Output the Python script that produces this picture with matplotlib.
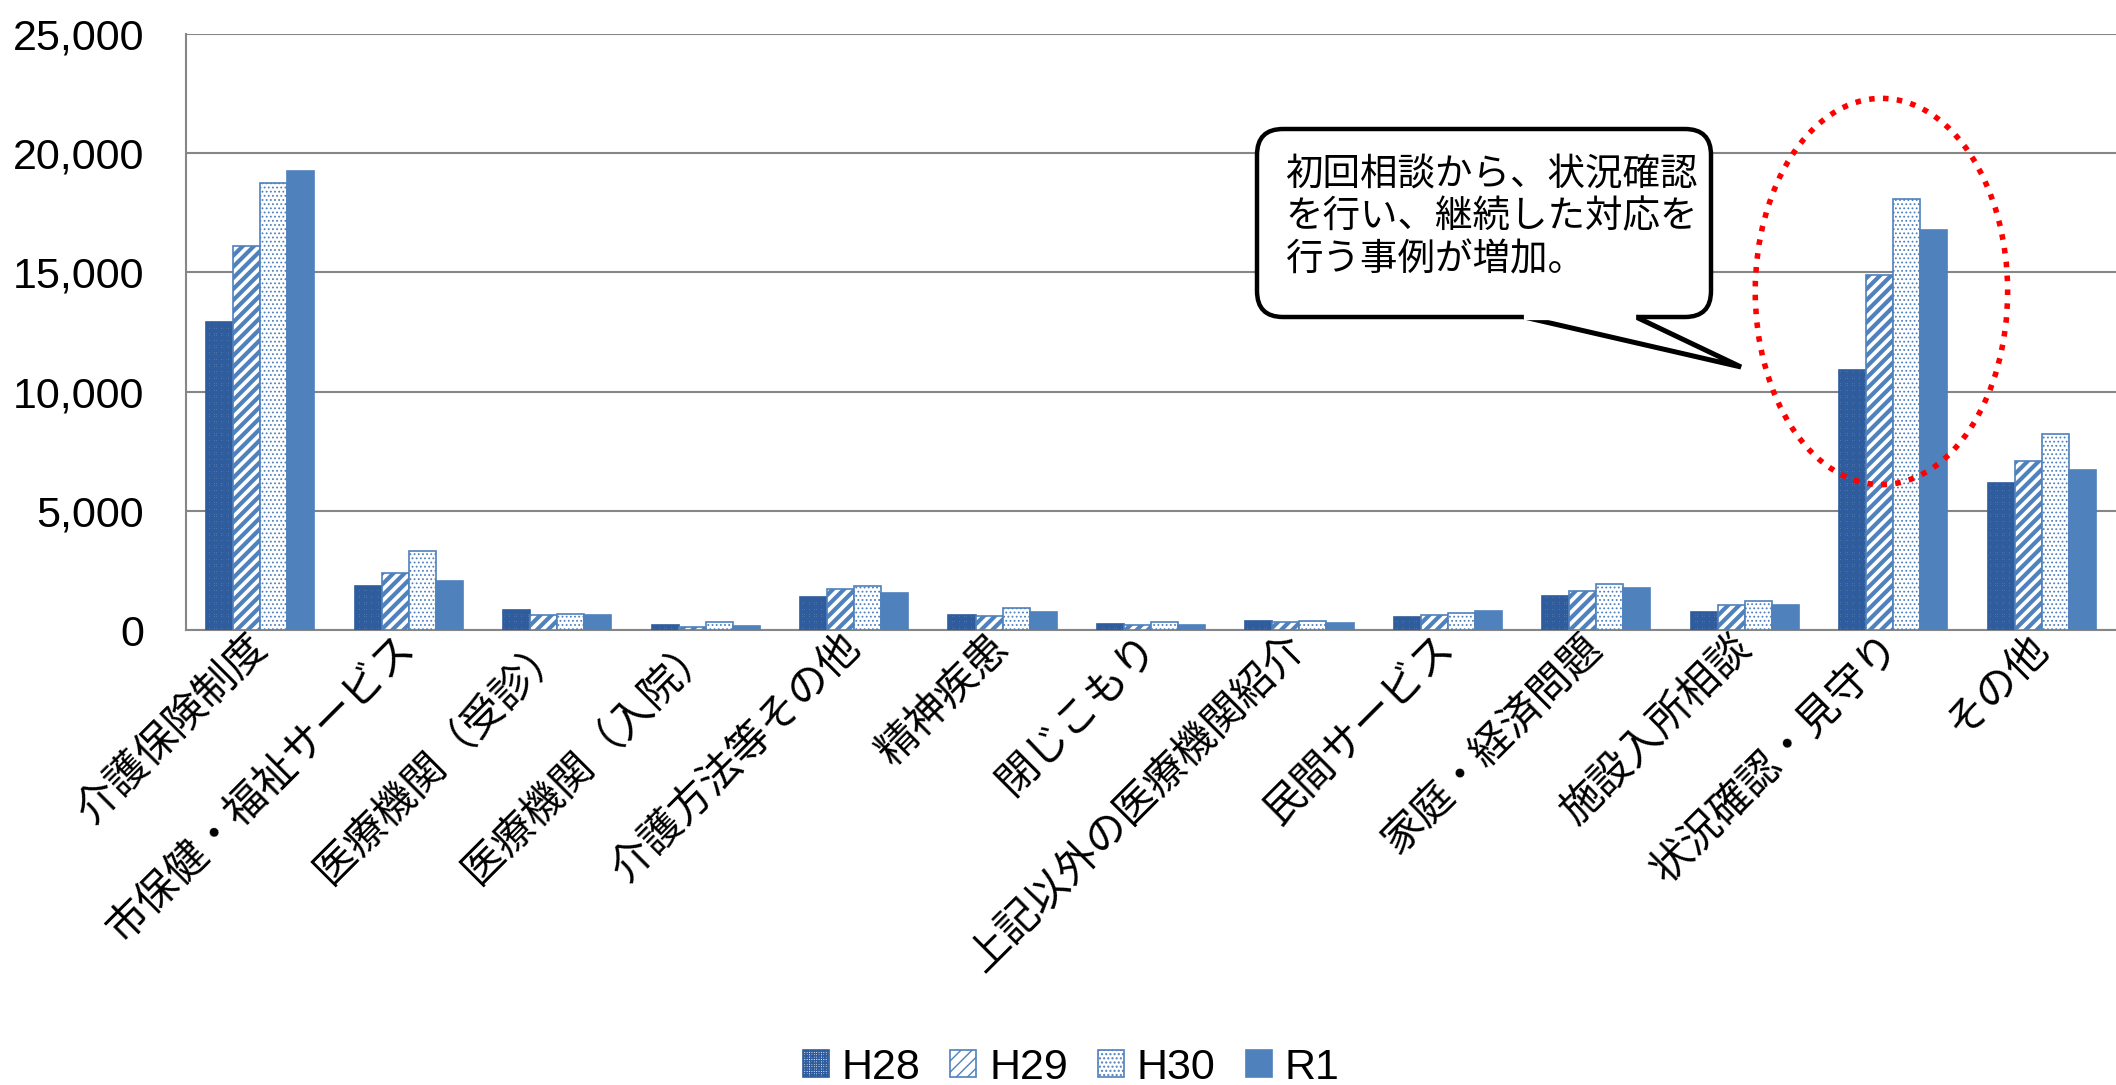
import matplotlib
matplotlib.use('Agg')
import matplotlib.pyplot as plt
import matplotlib.transforms as mtransforms
from matplotlib.patches import FancyBboxPatch, Polygon, Ellipse
from matplotlib.lines import Line2D
from matplotlib.ticker import FuncFormatter
import numpy as np

categories = ['介護保険制度', '市保健・福祉サービス', '医療機関（受診）', '医療機関（入院）',
              '介護方法等その他', '精神疾患', '閉じこもり', '上記以外の医療機関紹介',
              '民間サービス', '家庭・経済問題', '施設入所相談', '状況確認・見守り', 'その他']
series_names = ['H28', 'H29', 'H30', 'R1']
h28 = [12920, 1840, 850, 230, 1400, 630, 270, 380, 550, 1420, 760, 10910, 6180]
h29 = [16120, 2410, 610, 140, 1710, 570, 220, 340, 610, 1630, 1040, 14910, 7100]
h30 = [18730, 3320, 690, 330, 1830, 920, 320, 380, 730, 1920, 1230, 18090, 8210]
r1 = [19270, 2060, 610, 170, 1540, 770, 210, 290, 800, 1750, 1040, 16780, 6730]
callout_lines = ['初回相談から、状況確認', 'を行い、継続した対応を', '行う事例が増加。']

W, H = 2116, 1085
BLUE = '#4F81BD'
JP = ['Noto Sans CJK JP', 'DejaVu Sans']
NUM = ['Liberation Sans', 'DejaVu Sans']

fig = plt.figure(figsize=(W / 100, H / 100), dpi=100)
ax = fig.add_axes([186 / W, 1 - 630 / H, 1 - 186 / W, (630 - 34) / H])

x = np.arange(len(categories))
w = 0.182
styles = [
    dict(color='white', edgecolor='#2F5C9C', hatch='+' * 7, hlw=1.3),
    dict(color='white', edgecolor=BLUE, hatch='///', hlw=3.0),
    dict(color='white', edgecolor=BLUE, hatch='.' * 4, hlw=0.8),
    dict(color=BLUE, edgecolor=BLUE, hatch=None, hlw=1.0),
]
containers = []
for i, (vals, st) in enumerate(zip([h28, h29, h30, r1], styles)):
    bars = ax.bar(x + (i - 1.5) * w, vals, w, color=st['color'], edgecolor=st['edgecolor'],
                  hatch=st['hatch'], linewidth=1.2, label=series_names[i], zorder=3)
    for b in bars:
        if hasattr(b, 'set_hatch_linewidth'):
            b.set_hatch_linewidth(st['hlw'])
    containers.append(bars)

ax.set_xlim(-0.5, len(categories) - 0.5)
ax.set_ylim(0, 25000)
ax.set_yticks(np.arange(0, 25001, 5000))
ax.yaxis.set_major_formatter(FuncFormatter(lambda v, p: f'{int(v):,}'))
ax.yaxis.grid(True, color='#868686', linewidth=1.5)
ax.set_axisbelow(True)
for s in ['top', 'right']:
    ax.spines[s].set_visible(False)
for s in ['left', 'bottom']:
    ax.spines[s].set_color('#868686')
    ax.spines[s].set_linewidth(1.5)
ax.tick_params(axis='y', length=0, pad=30, labelsize=31)
for t in ax.get_yticklabels():
    t.set_fontfamily(NUM)
ax.set_xticks(x)
ax.set_xticklabels(categories, rotation=45, ha='right', va='center', rotation_mode='anchor',
                   fontsize=30, family=JP)
ax.tick_params(axis='x', length=0, pad=8)

leg = fig.legend(handles=containers, labels=series_names, loc='center',
                 bbox_to_anchor=(1071 / W, 1 - 1068 / H), ncol=4, frameon=False,
                 prop={'family': NUM, 'size': 31}, handlelength=0.6, handleheight=0.6,
                 handletextpad=0.3, columnspacing=0.7)

# callout bubble (pixel coordinates, y measured from top)
ident = mtransforms.IdentityTransform()
def P(px, py):
    return (px, H - py)

bx0, by0, bx1, by1 = 1257, 129, 1711, 317
box = FancyBboxPatch(P(bx0, by1), bx1 - bx0, by1 - by0, boxstyle='round,pad=0,rounding_size=26',
                     facecolor='white', edgecolor='black', linewidth=3.2, transform=ident, zorder=5)
fig.add_artist(box)
tail = Polygon([P(1524, by1), P(1741, 367), P(1636, by1)], closed=False, facecolor='white',
               edgecolor='black', linewidth=3.6, transform=ident, zorder=6, joinstyle='miter')
fig.add_artist(tail)
fig.add_artist(Line2D([1527, 1633], [H - by1, H - by1], color='white', linewidth=4.5,
                      transform=ident, zorder=7))
for k, line in enumerate(callout_lines):
    fig.text(1285 / W, 1 - (174 + 43 * k) / H, line, fontsize=27, family=JP, va='center',
             ha='left', zorder=8)

# red dotted ellipse around 状況確認・見守り
idx = categories.index('状況確認・見守り')
ell = Ellipse((idx - 0.08, 14200), 1.70, 16200, fill=False, edgecolor='#FF0000', linewidth=4.0,
              linestyle=(0, (1, 1.5)), clip_on=False, zorder=6)
ax.add_patch(ell)

fig.savefig('out.png', dpi=100)
